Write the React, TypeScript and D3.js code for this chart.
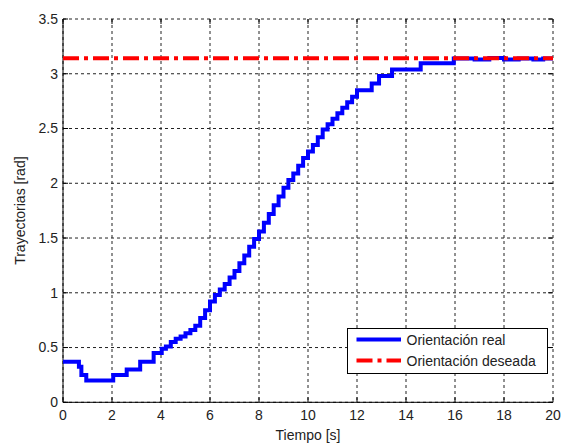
import React from "react";
import * as d3 from "d3";

const times = [0, 0.65, 0.75, 0.95, 2.05, 2.6, 3.15, 3.7, 4.03, 4.2, 4.4, 4.6, 4.8, 5.0, 5.2, 5.4, 5.6, 5.8, 6.0, 6.2, 6.4, 6.6, 6.8, 7.0, 7.2, 7.4, 7.6, 7.8, 8.0, 8.2, 8.4, 8.6, 8.8, 9.0, 9.2, 9.4, 9.6, 9.8, 10.0, 10.2, 10.4, 10.6, 10.8, 11.0, 11.2, 11.4, 11.6, 11.8, 12.0, 12.6, 12.9, 13.43, 14.6, 15.95, 16.8, 17.4, 18.0, 18.6, 19.2, 19.6, 20];
const realValues = [0.37, 0.325, 0.25, 0.2, 0.25, 0.3, 0.37, 0.45, 0.49, 0.51, 0.55, 0.58, 0.6, 0.63, 0.66, 0.7, 0.77, 0.84, 0.92, 0.98, 1.03, 1.08, 1.14, 1.2, 1.27, 1.34, 1.42, 1.49, 1.56, 1.64, 1.72, 1.8, 1.88, 1.96, 2.03, 2.09, 2.16, 2.23, 2.29, 2.35, 2.42, 2.49, 2.54, 2.59, 2.64, 2.69, 2.74, 2.79, 2.85, 2.91, 2.98, 3.04, 3.095, 3.14, 3.13, 3.145, 3.13, 3.14, 3.13, 3.14, 3.14];
const desiredTimes = [0, 20];
const desiredValues = [3.1416, 3.1416];
const xTicks = [0, 2, 4, 6, 8, 10, 12, 14, 16, 18, 20];
const yTicks = [0, 0.5, 1, 1.5, 2, 2.5, 3, 3.5];
const xLabel = "Tiempo [s]";
const yLabel = "Trayectorias [rad]";
const legendLabels = ["Orientación real", "Orientación deseada"];

const W = 561, H = 447;
const L = 63, R = 553, T = 19, B = 402.3;
const FONT = "'Liberation Sans', Arial, sans-serif";

export default function App() {
  const x = d3.scaleLinear().domain([0, 20]).range([L, R]);
  const y = d3.scaleLinear().domain([0, 3.5]).range([B, T]);
  const real = times.map((t, i) => [t, realValues[i]] as [number, number]);
  const desired = desiredTimes.map((t, i) => [t, desiredValues[i]] as [number, number]);
  const stepLine = d3.line<[number, number]>().x(d => x(d[0])).y(d => y(d[1])).curve(d3.curveStepAfter);
  const line = d3.line<[number, number]>().x(d => x(d[0])).y(d => y(d[1]));
  const tick = 5;
  const grid = "#222";
  const lx = 347.5, ly = 328.5, lw = 200, lh = 45;
  return (
    <svg width={W} height={H} style={{ position: "absolute", left: 0, top: 0, background: "#fff" }} fontFamily={FONT}>
      <rect x={0} y={0} width={W} height={H} fill="#fff" />
      {xTicks.map(t => (
        <line key={"gx" + t} x1={x(t)} x2={x(t)} y1={T} y2={B} stroke={grid} strokeWidth={1} strokeDasharray="3,3" />
      ))}
      {yTicks.map(t => (
        <line key={"gy" + t} x1={L} x2={R} y1={y(t)} y2={y(t)} stroke={grid} strokeWidth={1} strokeDasharray="3,3" />
      ))}
      {xTicks.map(t => (
        <g key={"tx" + t}>
          <line x1={x(t)} x2={x(t)} y1={B} y2={B - tick} stroke="#000" />
          <line x1={x(t)} x2={x(t)} y1={T} y2={T + tick} stroke="#000" />
          <text x={x(t)} y={420} textAnchor="middle" fontSize={14} fill="#222">{t}</text>
        </g>
      ))}
      {yTicks.map(t => (
        <g key={"ty" + t}>
          <line x1={L} x2={L + tick} y1={y(t)} y2={y(t)} stroke="#000" />
          <line x1={R} x2={R - tick} y1={y(t)} y2={y(t)} stroke="#000" />
          <text x={58} y={y(t)} dy="0.35em" textAnchor="end" fontSize={14} fill="#222">{t}</text>
        </g>
      ))}
      <line x1={L} x2={L} y1={T} y2={B} stroke="#000" strokeWidth={1} />
      <line x1={L} x2={R} y1={B} y2={B} stroke="#000" strokeWidth={1} />
      <path d={stepLine(real) || ""} fill="none" stroke="#0000ff" strokeWidth={4} strokeLinejoin="miter" />
      <path d={line(desired) || ""} fill="none" stroke="#ff0000" strokeWidth={4} strokeDasharray="16,5,4,5" />
      <text x={(L + R) / 2} y={440} textAnchor="middle" fontSize={14} fill="#222">{xLabel}</text>
      <text transform={`translate(25,${(T + B) / 2}) rotate(-90)`} textAnchor="middle" fontSize={14} fill="#222">{yLabel}</text>
      <rect x={lx} y={ly} width={lw} height={lh} fill="#fff" stroke="#000" strokeWidth={1} />
      <line x1={356.5} x2={401} y1={339.5} y2={339.5} stroke="#0000ff" strokeWidth={4} />
      <line x1={356.5} x2={401} y1={360.5} y2={360.5} stroke="#ff0000" strokeWidth={4} strokeDasharray="16,5,4,5" />
      <text x={406.5} y={344.5} fontSize={14} fill="#222">{legendLabels[0]}</text>
      <text x={406.5} y={366} fontSize={14} fill="#222">{legendLabels[1]}</text>
    </svg>
  );
}
